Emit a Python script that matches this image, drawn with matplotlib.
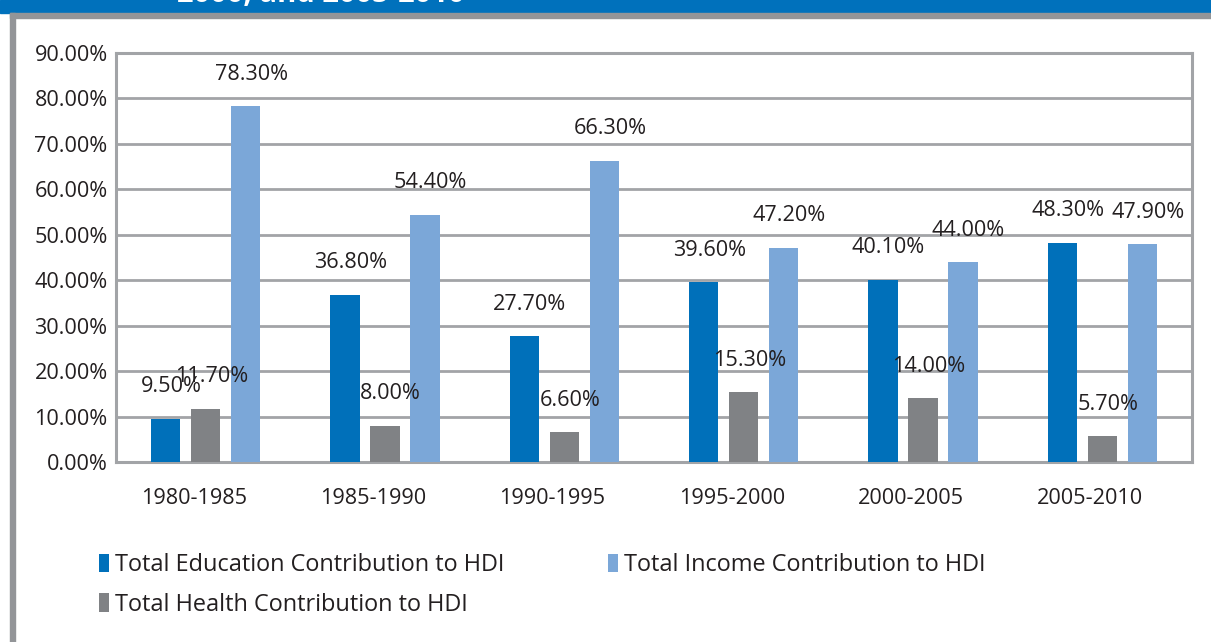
import numpy as np
import matplotlib.pyplot as plt
from matplotlib.patches import Rectangle
from matplotlib.transforms import ScaledTranslation

plt.rcParams['font.family'] = ['Open Sans', 'DejaVu Sans']

# data
periods = ['1980-1985', '1985-1990', '1990-1995', '1995-2000', '2000-2005', '2005-2010']
education = [9.5, 36.8, 27.7, 39.6, 40.1, 48.3]
health = [11.7, 8.0, 6.6, 15.3, 14.0, 5.7]
income = [78.3, 54.4, 66.3, 47.2, 44.0, 47.9]

names = ['Total Education Contribution to HDI',
         'Total Health Contribution to HDI',
         'Total Income Contribution to HDI']
colors = ['#0070BA', '#808285', '#7BA7D8']
txt = '#231F20'
grid_c = '#A2A4A7'

W, H = 1211, 642
fig = plt.figure(figsize=(W / 100, H / 100), dpi=100)

# banner + outer frame
fig.patches.append(Rectangle((0, 1 - 13 / H), 1, 13 / H, transform=fig.transFigure,
                             color='#0071BC', zorder=0))
fig.patches.append(Rectangle((10 / W, 1 - 18 / H), 1, 5 / H, transform=fig.transFigure,
                             color='#939598', zorder=0))
fig.patches.append(Rectangle((10 / W, 0), 5 / W, 1 - 13 / H, transform=fig.transFigure,
                             color='#939598', zorder=0))
fig.text(177 / W, 1 - 2 / H, '2000, and 2005-2010', color='white', fontsize=21,
         fontweight='bold', ha='left', va='baseline')

ax = fig.add_axes([116 / W, 1 - 462 / H, (1192 - 116) / W, (462 - 53) / H])

x = np.arange(len(periods))
bw = 0.162
step = 0.223
series = [education, health, income]
handles = []
for i, vals in enumerate(series):
    b = ax.bar(x + (i - 1) * step, vals, width=bw, color=colors[i], zorder=3, label=names[i])
    handles.append(b)
    for xi, v in zip(x + (i - 1) * step, vals):
        ax.annotate(f'{v:.2f}%', (xi, v), xytext=(4, 23), textcoords='offset points',
                    ha='center', va='center', fontsize=15.6, color=txt, zorder=4)

ax.set_xlim(-0.5, len(periods) - 0.5)
ax.set_ylim(0, 90)
ax.set_yticks(np.arange(0, 91, 10))
ax.set_yticklabels([f'{t:.2f}%' for t in range(0, 91, 10)])
ax.set_xticks(x)
ax.set_xticklabels(periods)
ax.tick_params(length=0, labelsize=15.6, labelcolor=txt)
ax.tick_params(axis='y', pad=6)
ax.tick_params(axis='x', pad=19)
for lab in ax.get_xticklabels():
    lab.set_transform(lab.get_transform() + ScaledTranslation(-0.12, 0, fig.dpi_scale_trans))

ax.grid(axis='y', color=grid_c, linewidth=2.0, zorder=1)
for s in ax.spines.values():
    s.set_color(grid_c)
    s.set_linewidth(2.2)

leg = fig.legend([handles[0], handles[1], handles[2]], [names[0], names[1], names[2]],
                 ncol=2, loc='upper left', bbox_to_anchor=(78 / W, 1 - 532 / H),
                 frameon=False, fontsize=16.9, handlelength=0.43, handleheight=0.85,
                 handletextpad=0.25, columnspacing=4.4, labelspacing=0.66,
                 labelcolor=txt)

fig.savefig('out.png', dpi=100)
